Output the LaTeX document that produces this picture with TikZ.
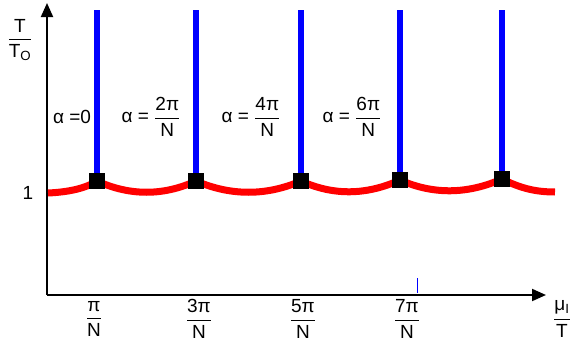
\documentclass[tikz,border=0pt]{standalone}
\usepackage{amsmath}
\usepackage{fontspec}
\setmainfont{Liberation Sans}
\usetikzlibrary{arrows.meta}
\newcommand{\fr}[2]{$\genfrac{}{}{1.4pt}{0}{\text{#1}}{\text{#2}}$}
\begin{document}
\begin{tikzpicture}[x=1pt,y=-1pt,
  lbl/.style={inner sep=0pt,font=\fontsize{19}{21}\selectfont},
  axis/.style={line width=2pt,-{Triangle[length=14pt,width=12pt]}},
  bar/.style={blue,line width=6pt},
  crit/.style={fill=black,minimum size=16pt,inner sep=0pt},
  curve/.style={red,line width=7pt}]
\useasboundingbox (0,0) rectangle (574,343);
% axes
\coordinate (O) at (47,295);
\coordinate (ytip) at (47,3);
\coordinate (xtip) at (546,295);
\draw[axis] (O) -- (ytip);
\draw[axis] (O) -- (xtip);
% critical points
\node[crit] (c1) at (97,181) {};
\node[crit] (c2) at (196,181) {};
\node[crit] (c3) at (301,181) {};
\node[crit] (c4) at (400,180) {};
\node[crit] (c5) at (502,179) {};
% top ends of bars
\coordinate (t1) at (97,10);
\coordinate (t2) at (196,10);
\coordinate (t3) at (301,10);
\coordinate (t4) at (400,10);
\coordinate (t5) at (502,10);
\foreach \i in {1,...,5} \draw[bar] (t\i) -- (c\i.north);
% red curve
\coordinate (rs) at (48,193);
\coordinate (re) at (555,192);
\draw[curve] (rs) .. controls (70,192) and (86,188) .. (c1.center)
  .. controls (130,196) and (163,196) .. (c2.center)
  .. controls (231,196) and (266,196) .. (c3.center)
  .. controls (334,196) and (367,195) .. (c4.center)
  .. controls (434,195) and (468,194) .. (c5.center)
  .. controls (520,188) and (535,192) .. (re);
\foreach \i in {1,...,5} \node[crit] at (c\i) {};
% tick
\coordinate (k1) at (417,278);
\coordinate (k2) at (417,293);
\draw[blue,line width=1pt] (k1) -- (k2);
% labels
\node[lbl] (yl) at (20,40) {\fr{T}{T$_\text{O}$}};
\node[lbl] (one) at (28,193) {1};
\node[lbl] (x1) at (94,319) {\fr{π}{N}};
\node[lbl] (x3) at (199,319) {\fr{3π}{N}};
\node[lbl] (x5) at (303,319) {\fr{5π}{N}};
\node[lbl] (x7) at (407,319) {\fr{7π}{N}};
\node[lbl] (xl) at (562,319) {\fr{μ$_\text{I}$}{T}};
\node[lbl] (a0) at (72,117) {α =0};
\node[lbl] (a2) at (151,117) {α = \fr{2π}{N}};
\node[lbl] (a4) at (251,117) {α = \fr{4π}{N}};
\node[lbl] (a6) at (352,117) {α = \fr{6π}{N}};
\end{tikzpicture}
\end{document}
